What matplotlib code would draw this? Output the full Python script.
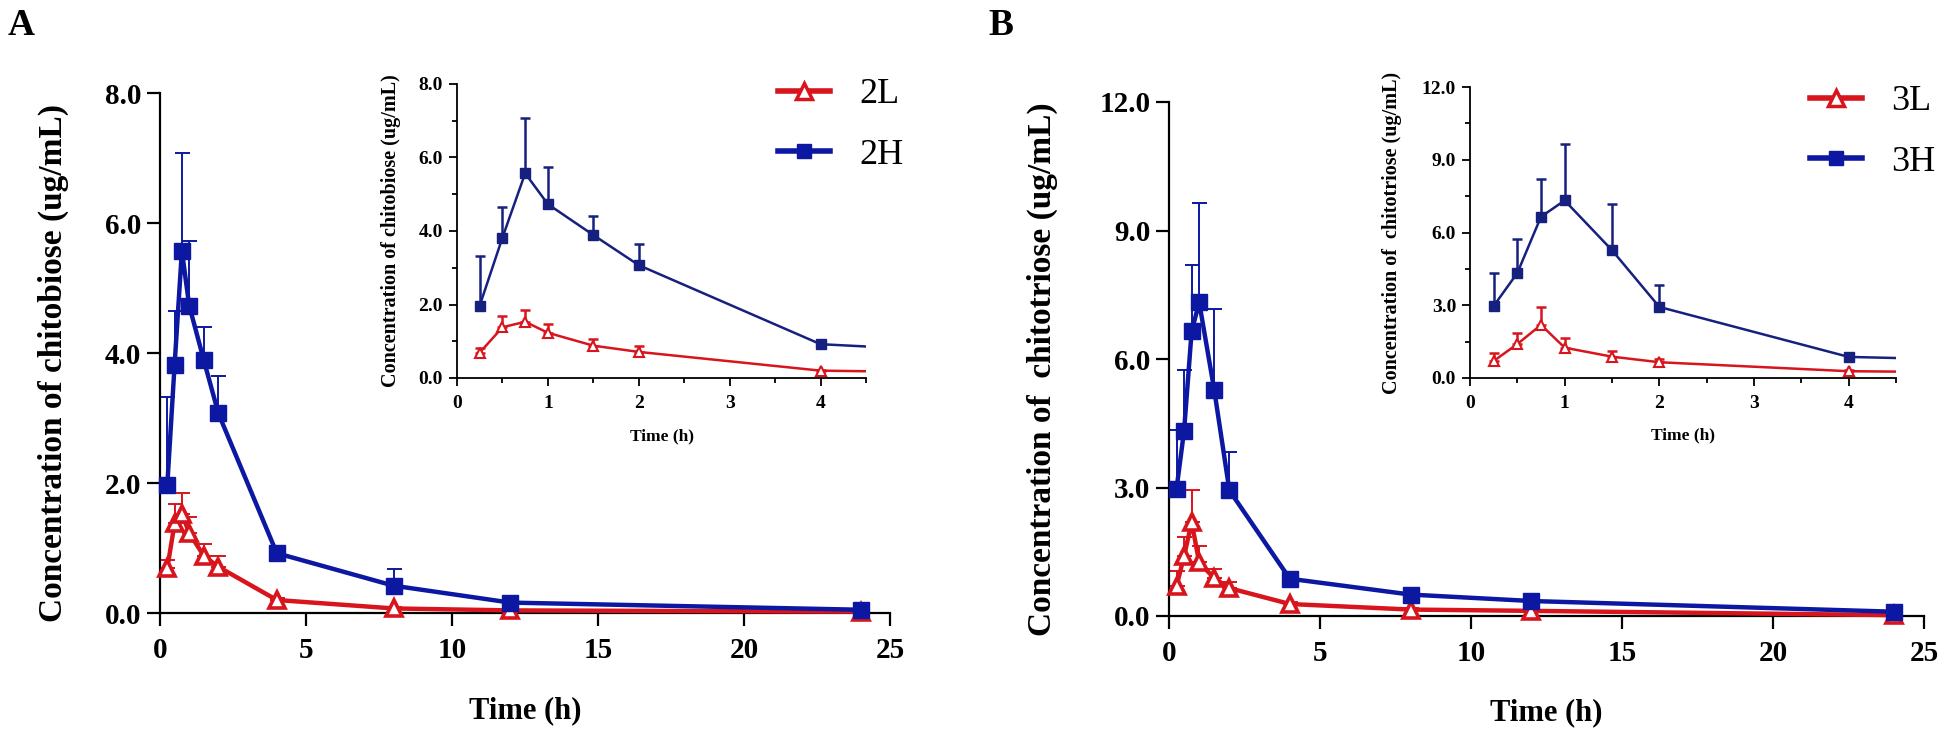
import numpy as np
import matplotlib
matplotlib.use("Agg")
import matplotlib.pyplot as plt
from matplotlib.lines import Line2D
from matplotlib.ticker import MultipleLocator, FormatStrFormatter

plt.rcParams['font.family'] = ['Liberation Serif', 'DejaVu Serif']

# sampling times (h)
t = np.array([0.25, 0.5, 0.75, 1, 1.5, 2, 4, 8, 12, 24])

# chitobiose
c2L = np.array([0.69, 1.38, 1.53, 1.23, 0.88, 0.71, 0.20, 0.07, 0.04, 0.02])
sd2L = np.array([0.13, 0.30, 0.32, 0.24, 0.18, 0.17, 0.03, 0.02, 0.01, 0.01])
c2H = np.array([1.97, 3.82, 5.57, 4.73, 3.89, 3.07, 0.92, 0.42, 0.16, 0.05])
sd2H = np.array([1.36, 0.83, 1.50, 1.00, 0.51, 0.58, 0.03, 0.25, 0.04, 0.02])

# chitotriose
c3L = np.array([0.70, 1.40, 2.19, 1.25, 0.88, 0.65, 0.28, 0.15, 0.12, 0.02])
sd3L = np.array([0.35, 0.45, 0.75, 0.38, 0.22, 0.15, 0.04, 0.03, 0.03, 0.01])
c3H = np.array([2.97, 4.33, 6.65, 7.32, 5.27, 2.93, 0.87, 0.50, 0.35, 0.10])
sd3H = np.array([1.37, 1.41, 1.55, 2.32, 1.90, 0.90, 0.15, 0.08, 0.12, 0.03])

RED = '#d8151d'
BLUE = '#0c18a2'
BLUE_IN = '#16207f'

W, H = 1942, 729
fig = plt.figure(figsize=(W / 100, H / 100), dpi=100)


def frac(l, r, top, bot):
    return [l / W, 1 - bot / H, (r - l) / W, (bot - top) / H]


def style(ax, lw, tl, ts, minor=False):
    for s in ['top', 'right']:
        ax.spines[s].set_visible(False)
    for s in ['left', 'bottom']:
        ax.spines[s].set_linewidth(lw)
    ax.tick_params(which='major', direction='out', length=tl, width=lw,
                   labelsize=ts, pad=4)
    if minor:
        ax.tick_params(which='minor', direction='out', length=tl * 0.55, width=lw)
    for lab in ax.get_xticklabels() + ax.get_yticklabels():
        lab.set_fontweight('bold')


def draw(ax, y, sd, color, marker, ms, lw, mew, cap, elw, clip):
    zeros = np.zeros_like(sd)
    ax.errorbar(t, y, yerr=[zeros, sd], fmt='none', ecolor=color,
                elinewidth=elw, capsize=cap, capthick=elw, clip_on=clip, zorder=2)
    ax.plot(t, y, color=color, lw=lw, marker=marker, ms=ms,
            mfc='white' if marker == '^' else color, mec=color, mew=mew,
            clip_on=clip, zorder=3)


panels = [
    dict(main=frac(160, 890, 93, 613), ins=frac(457, 866, 84, 378),
         L=(c2L, sd2L), Hh=(c2H, sd2H), ymax=8, ystep=2,
         ylab='Concentration of chitobiose (ug/mL)', names=['2L', '2H'],
         letter='A', lx=8, ylc=-0.125, iylc=-0.137, leg=(778, 78)),
    dict(main=frac(1169, 1924, 102, 616), ins=frac(1470, 1896, 87, 378),
         L=(c3L, sd3L), Hh=(c3H, sd3H), ymax=12, ystep=3,
         ylab='Concentration of  chitotriose (ug/mL)', names=['3L', '3H'],
         letter='B', lx=988, ylc=-0.147, iylc=-0.16, leg=(1810, 85)),
]

for p in panels:
    ax = fig.add_axes(p['main'])
    draw(ax, *p['L'], RED, '^', 12, 3.2, 2.6, 5.4, 1.4, False)
    draw(ax, *p['Hh'], BLUE, 's', 11.5, 3.2, 1, 5.4, 1.4, False)
    ax.set_xlim(0, 25)
    ax.set_ylim(0, p['ymax'])
    ax.set_xticks(np.arange(0, 26, 5))
    ax.set_yticks(np.arange(0, p['ymax'] + 0.1, p['ystep']))
    ax.yaxis.set_major_formatter(FormatStrFormatter('%.1f'))
    style(ax, 1.6, 9.5, 21)
    ax.tick_params(axis='x', pad=8)
    ax.set_xlabel('Time (h)', fontsize=22, fontweight='bold')
    ax.xaxis.set_label_coords(0.5, -0.16)
    ax.set_ylabel(p['ylab'], fontsize=24, fontweight='bold')
    ax.yaxis.set_label_coords(p['ylc'], 0.48)

    ia = fig.add_axes(p['ins'])
    draw(ia, *p['L'], RED, '^', 7.5, 1.8, 1.5, 3.8, 1.8, True)
    draw(ia, *p['Hh'], BLUE_IN, 's', 6.5, 1.8, 1, 3.8, 1.8, True)
    ia.set_xlim(0, 4.5)
    ia.set_ylim(0, p['ymax'])
    ia.set_xticks(np.arange(0, 5, 1))
    ia.xaxis.set_minor_locator(MultipleLocator(0.5))
    ia.set_yticks(np.arange(0, p['ymax'] + 0.1, p['ystep']))
    ia.yaxis.set_minor_locator(MultipleLocator(p['ystep'] / 2))
    ia.yaxis.set_major_formatter(FormatStrFormatter('%.1f'))
    style(ia, 1.3, 6, 14, minor=True)
    ia.tick_params(axis='x', pad=6)
    ia.set_xlabel('Time (h)', fontsize=12.5, fontweight='bold')
    ia.xaxis.set_label_coords(0.5, -0.17)
    ia.set_ylabel(p['ylab'], fontsize=14.5, fontweight='bold')
    ia.yaxis.set_label_coords(p['iylc'], 0.5)

    handles = [
        Line2D([], [], color=RED, lw=4, marker='^', ms=11, mfc='white', mec=RED, mew=2.5),
        Line2D([], [], color=BLUE, lw=4, marker='s', ms=10, mfc=BLUE, mec=BLUE),
    ]
    lx, ly = p['leg']
    fig.legend(handles, p['names'], loc='upper left',
               bbox_to_anchor=(lx / W, 1 - ly / H), frameon=False,
               fontsize=26, handlelength=1.45, handletextpad=0.8,
               labelspacing=0.75, borderpad=0, borderaxespad=0)

    fig.text(p['lx'] / W, 1 - 8 / H, p['letter'], fontsize=27, fontweight='bold',
             ha='left', va='top')

fig.savefig('out.png', dpi=100)
